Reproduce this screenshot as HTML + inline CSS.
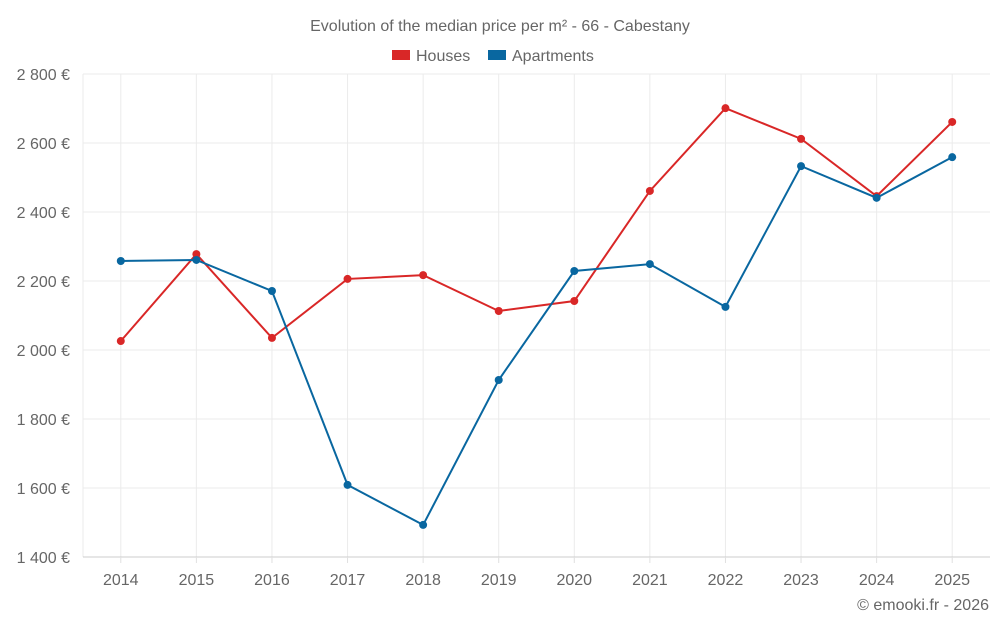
<!DOCTYPE html>
<html><head><meta charset="utf-8"><style>
body{margin:0;background:#fff;font-family:"Liberation Sans",sans-serif;}
svg text{font-family:"Liberation Sans",sans-serif;fill:#666;}
</style></head><body>
<svg id="chart" width="1000" height="625" xmlns="http://www.w3.org/2000/svg">
<text x="500" y="31" text-anchor="middle" font-size="16">Evolution of the median price per m² - 66 - Cabestany</text>
<g>
<g><rect x="392" y="50" width="18" height="10" fill="#d92727"/><text x="416" y="61" font-size="16">Houses</text></g>
<g><rect x="488" y="50" width="18" height="10" fill="#0967a0"/><text x="512" y="61" font-size="16">Apartments</text></g>
</g>
<g id="grid"></g>
<g id="yaxis"></g>
<g id="xaxis"></g>
<g id="series"></g>
<text x="989" y="610" text-anchor="end" font-size="16">© emooki.fr - 2026</text>
</svg>
<script>
const years=["2014","2015","2016","2017","2018","2019","2020","2021","2022","2023","2024","2025"];
const houses=[2026,2278,2035,2206,2217,2113,2142,2461,2701,2612,2446,2661];
const apartments=[2258,2261,2171,1609,1493,1913,2229,2249,2125,2533,2441,2559];
const yTicks=[1400,1600,1800,2000,2200,2400,2600,2800];
const yTickLabels=["1 400 €","1 600 €","1 800 €","2 000 €","2 200 €","2 400 €","2 600 €","2 800 €"];
const L=83,R=990,T=74,B=557,ymin=1400,ymax=2800;
const NS="http://www.w3.org/2000/svg";
const bw=(R-L)/years.length;
const x=i=>L+bw*(i+0.5);
const y=v=>B-(v-ymin)/(ymax-ymin)*(B-T);
function mk(tag,attrs,parent){const e=document.createElementNS(NS,tag);for(const k in attrs)e.setAttribute(k,attrs[k]);parent.appendChild(e);return e;}
const grid=document.getElementById('grid'),ya=document.getElementById('yaxis'),xa=document.getElementById('xaxis'),se=document.getElementById('series');
const edge=mk('line',{x1:L,x2:L,y1:T,y2:B,stroke:'#ebebeb','stroke-width':1},grid);


years.forEach((yr,i)=>{
 const l=mk('line',{x1:x(i),x2:x(i),y1:T,y2:B,stroke:'#ebebeb','stroke-width':1},grid);
 
 
});
yTicks.forEach((t,i)=>{
 const l=mk('line',{x1:L,x2:R,y1:y(t),y2:y(t),stroke:i==0?'#ccc':'#ebebeb','stroke-width':1},grid);
 
 
 const tx=mk('text',{x:70,y:y(t)+6,'text-anchor':'end','font-size':16},ya);tx.textContent=yTickLabels[i];
 
 
});
years.forEach((yr,i)=>{
 const tk=mk('line',{x1:x(i),x2:x(i),y1:B,y2:B+6,stroke:'#e0e0e0'},xa);
 
 
 const tx=mk('text',{x:x(i),y:585,'text-anchor':'middle','font-size':16},xa);tx.textContent=yr;
 
 
});
function draw(vals,color,name){
 const p=mk('polyline',{points:vals.map((v,i)=>x(i)+','+y(v)).join(' '),fill:'none',stroke:color,'stroke-width':2},se);
 
 
 vals.forEach((v,i)=>{
  const c=mk('circle',{cx:x(i),cy:y(v),r:4,fill:color},se);
  
  
 });
}
draw(houses,'#d92727','houses');
draw(apartments,'#0967a0','apartments');
</script>
</body></html>
